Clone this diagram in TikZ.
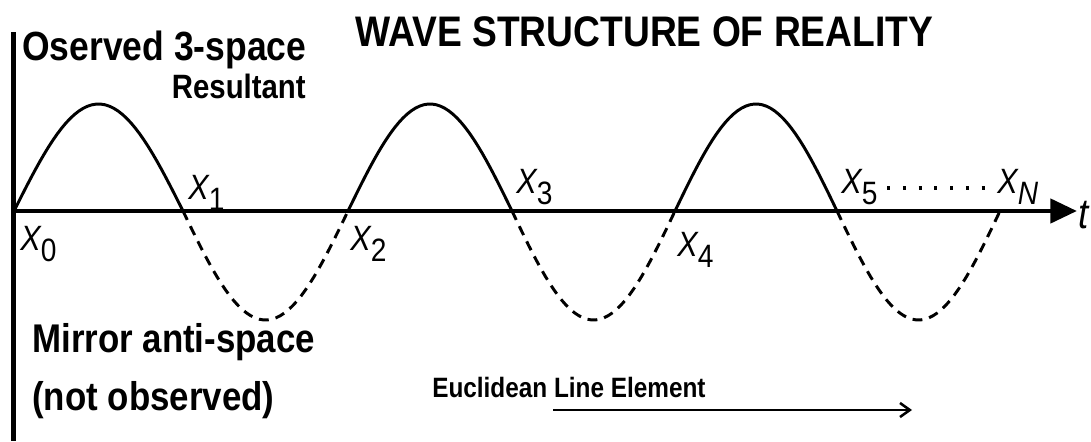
\documentclass[tikz,border=0pt]{standalone}
\usepackage{fontspec}
\setmainfont{Liberation Sans}[FakeStretch=0.87]
\usetikzlibrary{arrows.meta}

% X label with a lowered upright index
\newcommand{\xlab}[1]{\textit{X}\kern-0.5pt\raisebox{-8pt}{\fontsize{23}{23}\selectfont #1}}

\begin{document}
\begin{tikzpicture}[x=0.025cm, y=-0.025cm,
    wave/.style={line width=2.1pt, line join=round},
    antiwave/.style={wave, dash pattern=on 7pt off 5pt},
    heading/.style={font=\bfseries\fontsize{30.4}{30.4}\selectfont, inner sep=0pt, anchor=base west},
    region/.style={font=\bfseries\fontsize{28.5}{28.5}\selectfont, inner sep=0pt, anchor=base west},
    xmark/.style={font=\fontsize{25}{25}\selectfont, inner sep=0pt, anchor=base west}]
    \useasboundingbox (0, 0) rectangle (1091, 441);

    % Observed half waves
    \foreach \a/\b in {14/183, 348/512, 675/837}
        \draw[wave] plot[domain=\a:\b, samples=40] (\x, {211 - 107*sin(180/(\b-\a)*(\x-\a))});

    % Mirror half waves
    \foreach \a/\b in {183/348, 512/675, 837/1000}
        \draw[antiwave] plot[domain=\a:\b, samples=40] (\x, {211 + 109*sin(180/(\b-\a)*(\x-\a))});

    % Axes
    \coordinate (origin) at (13.5, 211);
    \coordinate (tend) at (1077, 211);
    \coordinate (ytop) at (13.5, 32);
    \coordinate (ybot) at (13.5, 441);
    \draw[line width=3.5pt, -{Triangle[length=19pt, width=17pt]}] ([xshift=-1.7pt]origin) -- (tend);
    \draw[line width=3.5pt] (ytop) -- (ybot);
    \node[xmark, font=\fontsize{30}{30}\selectfont\itshape] (t) at (1078, 228) {t};

    % Crossing labels
    \node[xmark] (x0) at (20, 250) {\xlab{0}};
    \node[xmark] (x1) at (188, 199) {\xlab{1}};
    \node[xmark] (x2) at (350, 250) {\xlab{2}};
    \node[xmark] (x3) at (516, 193) {\xlab{3}};
    \node[xmark] (x4) at (677, 256) {\xlab{4}};
    \node[xmark] (x5) at (841, 193) {\xlab{5}};
    \node[xmark] (xn) at (997, 193) {\xlab{\textit{N}}};
    \coordinate (dotsl) at (887, 188);
    \coordinate (dotsr) at (986, 188);
    \draw[line width=2.2pt, dash pattern=on 2.2pt off 9pt] (dotsl) -- (dotsr);

    % Texts
    \node[heading] (title) at (355, 46) {WAVE STRUCTURE OF REALITY};
    \node[region, font=\bfseries\fontsize{29}{29}\selectfont] (observed) at (22, 60) {Oserved 3-space};
    \node[region, anchor=base east, font=\bfseries\fontsize{24}{24}\selectfont] (resultant) at (306, 98) {Resultant};
    \node[region] (mirror) at (32, 352) {Mirror anti-space};
    \node[region] (notobs) at (32, 410) {(not observed)};

    % Line element arrow
    \node[region, font=\bfseries\fontsize{19.9}{19.9}\selectfont] (euclid) at (432, 397) {Euclidean Line Element};
    \coordinate (lstart) at (553, 410);
    \coordinate (lend) at (912, 410);
    \draw[line width=1.3pt, -{Straight Barb[length=7pt, width=10pt, line width=1.8pt]}] (lstart) -- (lend);
\end{tikzpicture}
\end{document}
